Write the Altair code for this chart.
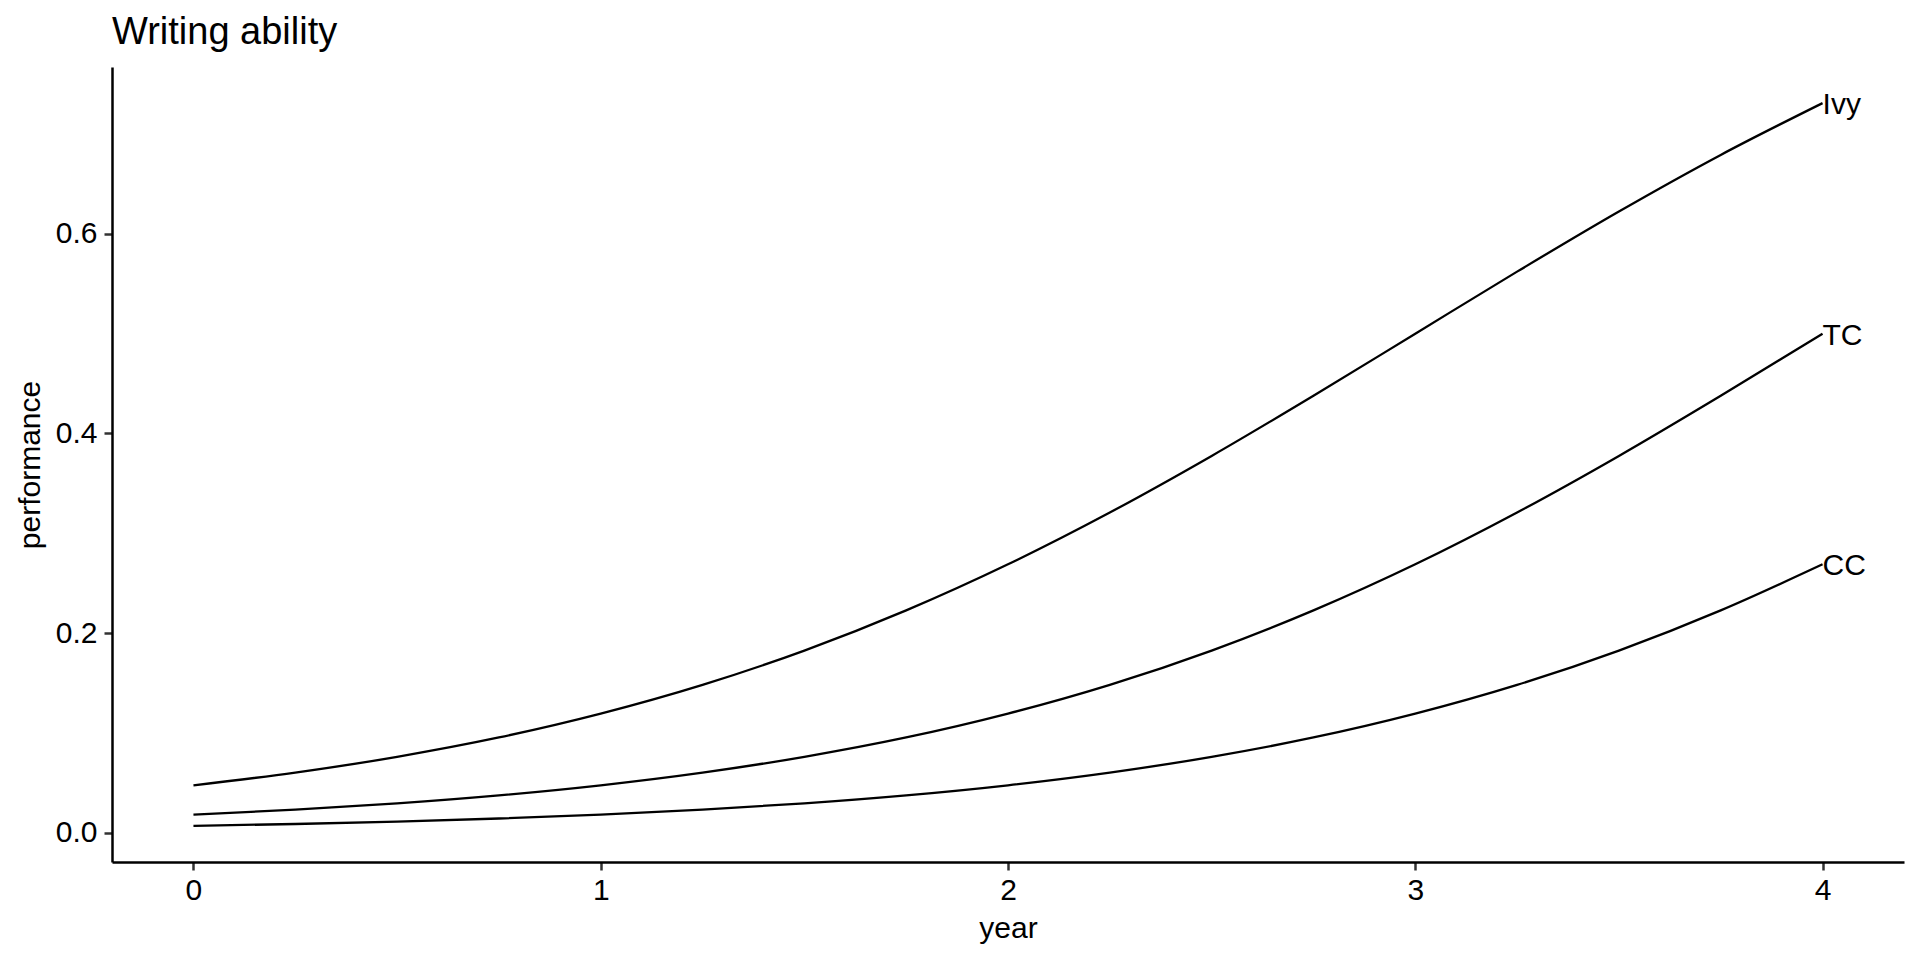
import altair as alt
import pandas as pd

years = [0.0, 0.25, 0.5, 0.75, 1.0, 1.25, 1.5, 1.75, 2.0, 2.25, 2.5, 2.75, 3.0, 3.25, 3.5, 3.75, 4.0]
ivy = [0.0474, 0.0601, 0.0759, 0.0953, 0.1192, 0.1480, 0.1824, 0.2227, 0.2689, 0.3208, 0.3775, 0.4378, 0.5000, 0.5622, 0.6225, 0.6792, 0.7311]
tc = [0.0180, 0.0230, 0.0293, 0.0373, 0.0474, 0.0601, 0.0759, 0.0953, 0.1192, 0.1480, 0.1824, 0.2227, 0.2689, 0.3208, 0.3775, 0.4378, 0.5000]
cc = [0.0067, 0.0086, 0.0110, 0.0141, 0.0180, 0.0230, 0.0293, 0.0373, 0.0474, 0.0601, 0.0759, 0.0953, 0.1192, 0.1480, 0.1824, 0.2227, 0.2689]
groups = ["Ivy", "TC", "CC"]
x_ticks = [0, 1, 2, 3, 4]
y_ticks = [0.0, 0.2, 0.4, 0.6]

rows = []
for g, vals in zip(groups, [ivy, tc, cc]):
    for yr, v in zip(years, vals):
        rows.append({"year": yr, "performance": v, "group": g})
df = pd.DataFrame(rows)

FONT = "Liberation Sans"
W, H = 1792, 795

xscale = alt.Scale(domain=[-0.2, 4.2], nice=False, zero=False)
yscale = alt.Scale(domain=[-0.0295, 0.7673], nice=False, zero=False)

base = alt.Chart(df)

lines = base.mark_line(color="black", strokeWidth=2.3, interpolate="monotone").encode(
    x=alt.X("year:Q", scale=xscale,
            axis=alt.Axis(values=x_ticks, format="d", title="year",
                          titleX=W / 2, titleY=75, titleBaseline="alphabetic",
                          labelBaseline="alphabetic", labelPadding=29)),
    y=alt.Y("performance:Q", scale=yscale,
            axis=alt.Axis(values=y_ticks, format=".1f", title="performance",
                          titleAngle=270, titleX=-73, titleY=H / 2,
                          titleBaseline="alphabetic", titleAlign="center",
                          labelPadding=7)),
    detail="group:N",
)

labels = base.transform_filter(alt.datum.year == 4).mark_text(
    align="left", baseline="middle", font=FONT, fontSize=30, color="black", dy=2
).encode(
    x=alt.X("year:Q", scale=xscale),
    y=alt.Y("performance:Q", scale=yscale),
    text="group:N",
)

chart = (lines + labels).properties(
    width=W, height=H,
    autosize=alt.AutoSizeParams(type="none"),
    padding={"left": 104, "top": 59, "right": 8, "bottom": 90},
    title=alt.Title("Writing ability", anchor="start", frame="group",
                    baseline="alphabetic", offset=23, dy=38, font=FONT,
                    fontSize=38, fontWeight="normal", color="black"),
).configure_view(stroke=None).configure_axis(
    grid=False,
    domainColor="black", domainWidth=2.5,
    tickColor="#333333", tickWidth=2.5, tickSize=8,
    labelFont=FONT, labelFontSize=30, labelColor="black",
    titleFont=FONT, titleFontSize=30, titleFontWeight="normal", titleColor="black",
)

chart.save("out.html", embed_options={"renderer": "svg", "actions": False})
